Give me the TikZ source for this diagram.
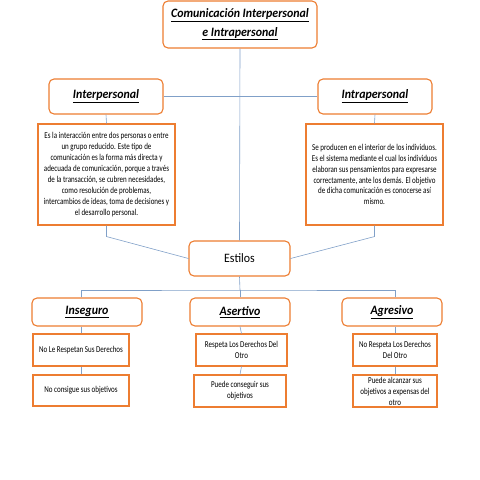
\documentclass[tikz,border=0pt]{standalone}
\usepackage{fontspec}
\setmainfont{Carlito}[FakeStretch=0.78]
\newfontfamily\headFont{Carlito}[FakeStretch=0.93]
\usepackage{tikz}
\usetikzlibrary{positioning}
\definecolor{boxColor}{RGB}{237,125,49}
\definecolor{lineColor}{RGB}{128,160,200}
\tikzstyle{chart} = [x = 1pt, y = -1pt]
\tikzstyle{roundBox} = [draw=boxColor, fill=white, line width=1.1pt, rounded corners = 5pt, inner sep=0pt, align=center]
\tikzstyle{squareBox} = [draw=boxColor, fill=white, line width=1.1pt, inner sep=0pt, align=center]
\tikzstyle{link} = [draw=lineColor, line width=0.6pt]
\tikzstyle{headText} = [font=\headFont\fontsize{12.8}{18.5}\selectfont]
\tikzstyle{bodyText} = [font=\fontsize{9}{10.9}\selectfont]
\tikzstyle{smallText} = [font=\fontsize{9}{11}\selectfont]
\newcommand{\headLabel}[1]{\underline{\textbf{\textit{#1}}}}

\begin{document}
\begin{tikzpicture}[chart]
  \useasboundingbox (0,0) rectangle (480,480);
  % top
  \node [roundBox, headText, minimum width=154pt, minimum height=47pt]
    (title) at (240,24.5) {\headLabel{Comunicación Interpersonal}\\\headLabel{e Intrapersonal}};
  \node [roundBox, headText, minimum width=114pt, minimum height=35pt]
    (inter) at (106,96.5) {\headLabel{Interpersonal}};
  \node [roundBox, headText, minimum width=114pt, minimum height=35pt]
    (intra) at (375,96.5) {\headLabel{Intrapersonal}};
  \node [squareBox, bodyText, minimum width=137pt, minimum height=101pt]
    (interDesc) at (106.5,174.5) {Es la interacción entre dos personas o entre\\un grupo reducido. Este tipo de\\comunicación es la forma más directa y\\adecuada de comunicación, porque a través\\de la transacción, se cubren necesidades,\\como resolución de problemas,\\intercambios de ideas, toma de decisiones y\\el desarrollo personal.};
  \node [squareBox, bodyText, minimum width=137pt, minimum height=101pt]
    (intraDesc) at (374.5,174.5) {Se producen en el interior de los individuos.\\Es el sistema mediante el cual los individuos\\elaboran sus pensamientos para expresarse\\correctamente, ante los demás. El objetivo\\de dicha comunicación es conocerse así\\mismo.};
  \node [roundBox, headText, minimum width=101pt, minimum height=35pt]
    (estilos) at (239.5,258.5) {Estilos};

  % styles
  \node [roundBox, headText, minimum width=110pt, minimum height=28pt]
    (inseguro) at (87,312) {\headLabel{Inseguro}};
  \node [roundBox, headText, minimum width=100pt, minimum height=28pt]
    (asertivo) at (240,312) {\headLabel{Asertivo}};
  \node [roundBox, headText, minimum width=100pt, minimum height=28pt]
    (agresivo) at (392,312) {\headLabel{Agresivo}};

  \node [squareBox, smallText, minimum width=96pt, minimum height=32pt]
    (insegA) at (81,350) {No Le Respetan Sus Derechos};
  \node [squareBox, smallText, minimum width=96pt, minimum height=31pt]
    (insegB) at (81,390.5) {No consigue sus objetivos};
  \node [squareBox, smallText, minimum width=91pt, minimum height=32pt]
    (asertA) at (241.5,350) {Respeta Los Derechos Del\\Otro};
  \node [squareBox, smallText, minimum width=92pt, minimum height=32pt]
    (asertB) at (240,391) {Puede conseguir sus\\objetivos};
  \node [squareBox, smallText, minimum width=84pt, minimum height=32pt]
    (agresA) at (395,350) {No Respeta Los Derechos\\Del Otro};
  \node [squareBox, smallText, minimum width=84pt, minimum height=32pt]
    (agresB) at (395,391) {Puede alcanzar sus\\objetivos a expensas del\\otro};

  \coordinate (bar) at (240,290);

  \draw [link] (title.south) -- (estilos.north);
  \draw [link] (inter.east) -- (intra.west);
  \draw [link] (inter.south) -- (interDesc.north);
  \draw [link] (intra.south) -- (intraDesc.north);
  \draw [link] (interDesc.south) -- ++(0,11) -- (estilos.west);
  \draw [link] (intraDesc.south) -- ++(0,11) -- (estilos.east);
  \draw [link] (estilos.south) -- (bar);
  \draw [link] (insegA.north |- inseguro.north) |- (bar) -| (agresA.north |- agresivo.north);
  \draw [link] (bar) -- (asertivo.north);
  \draw [link] (insegA.north |- inseguro.south) -- (insegA.north);
  \draw [link] (insegA.south) -- (insegB.north);
  \draw [link] (asertivo.south) -- (asertA.north);
  \draw [link] (asertA.south) -- (asertB.north);
  \draw [link] (agresA.north |- agresivo.south) -- (agresA.north);
  \draw [link] (agresA.south) -- (agresB.north);
\end{tikzpicture}
\end{document}
